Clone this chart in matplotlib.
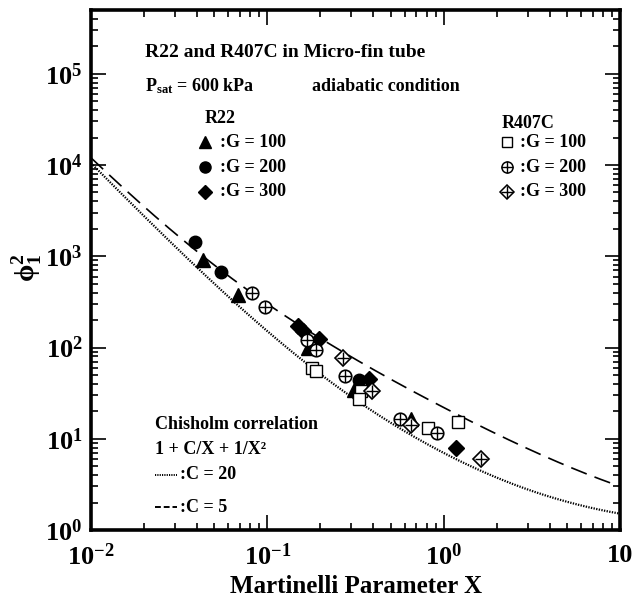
import numpy as np
import matplotlib
matplotlib.use("Agg")
import matplotlib.pyplot as plt
from matplotlib.ticker import LogLocator, NullFormatter, FixedLocator, FixedFormatter

plt.rcParams['font.family'] = ['Liberation Serif', 'DejaVu Serif']
plt.rcParams['font.weight'] = 'bold'
plt.rcParams['mathtext.fontset'] = 'custom'
plt.rcParams['mathtext.rm'] = 'Liberation Serif:bold'
plt.rcParams['mathtext.bf'] = 'Liberation Serif:bold'
plt.rcParams['mathtext.it'] = 'Liberation Serif:bold:italic'
plt.rcParams['mathtext.default'] = 'rm'

# R22 (filled markers)
r22_g100_x = [0.043, 0.068, 0.169, 0.310, 0.649]
r22_g100_y = [911, 373, 99, 34, 16.5]
r22_g200_x = [0.0387, 0.0548, 0.331]
r22_g200_y = [1450, 679, 44.5]
r22_g300_x = [0.150, 0.160, 0.197, 0.377, 1.18]
r22_g300_y = [171, 150, 125, 45, 8.0]

# R407C (open markers)
r407_g100_x = [0.180, 0.190, 0.338, 0.329, 0.815, 1.205]
r407_g100_y = [60, 55, 33, 27.3, 13.1, 15.1]
r407_g200_x = [0.0815, 0.0975, 0.168, 0.188, 0.276, 0.562, 0.916]
r407_g200_y = [399, 280, 120, 93, 49, 16.5, 11.7]
r407_g300_x = [0.269, 0.394, 0.649, 1.63]
r407_g300_y = [77, 33, 14.3, 6.0]

# Chisholm correlation 1 + C/X + 1/X^2 (upper curve dashed, lower dotted as drawn)
C_dashed = 20
C_dotted = 5

xt = [0.01, 0.1, 1, 10]
xt_lab = [r'$10^{-2}$', r'$10^{-1}$', r'$10^{0}$', '10']
yt = [1, 10, 100, 1e3, 1e4, 1e5]
yt_lab = [r'$10^{%d}$' % k for k in range(6)]

X = np.logspace(-2, 1, 300)

fig = plt.figure(figsize=(6.33, 6.02), dpi=100)
ax = fig.add_axes([91/633, 72/602, 529/633, 520/602])
ax.set_xscale('log')
ax.set_yscale('log')

ax.plot(X, 1 + C_dashed/X + 1/X**2, c='k', lw=1.2, ls=(0, (10, 5)))
ax.plot(X, 1 + C_dotted/X + 1/X**2, c='k', lw=1.6, ls=(0, (0.6, 0.6)))

ms = 9
ax.plot(r22_g100_x, r22_g100_y, '^', c='k', ms=ms+1, ls='none')
ax.plot(r22_g200_x, r22_g200_y, 'o', c='k', ms=ms, ls='none')
ax.plot(r22_g300_x, r22_g300_y, 'D', c='k', ms=ms-1, ls='none')
ax.plot(r407_g100_x, r407_g100_y, 's', mfc='white', mec='k', mew=1, ms=ms-1, ls='none')
ax.plot(r407_g200_x, r407_g200_y, 'o', mfc='white', mec='k', mew=1.2, ms=ms, ls='none')
ax.plot(r407_g200_x, r407_g200_y, '+', c='k', mew=1, ms=ms, ls='none')
ax.plot(r407_g300_x, r407_g300_y, 'D', mfc='white', mec='k', mew=1.2, ms=ms-1, ls='none')
ax.plot(r407_g300_x, r407_g300_y, '+', c='k', mew=1, ms=ms, ls='none')

ax.set_xlim(0.01, 10)
ax.set_ylim(1, 5e5)

ax.xaxis.set_major_locator(FixedLocator(xt))
ax.xaxis.set_major_formatter(FixedFormatter(xt_lab))
ax.yaxis.set_major_locator(FixedLocator(yt))
ax.yaxis.set_major_formatter(FixedFormatter(yt_lab))
for a in (ax.xaxis, ax.yaxis):
    a.set_minor_locator(LogLocator(base=10, subs=np.arange(2, 10), numticks=20))
    a.set_minor_formatter(NullFormatter())

ax.tick_params(which='both', direction='in', top=True, right=True, width=1.2, colors='k')
ax.tick_params(which='major', length=11, labelsize=19, pad=6)
ax.tick_params(axis='x', which='major', pad=10)
ax.tick_params(which='minor', length=5)
for s in ax.spines.values():
    s.set_linewidth(2.6)

ax.set_xlabel('Martinelli Parameter X', fontsize=18, fontweight='bold', labelpad=3)
fig.text(27/633, 1 - 268/602, r'$\phi_{1}^{2}$', fontsize=20, rotation=90, ha='center', va='center')

fs = 13
tr = ax.transAxes
ax.text(0.102, 0.910, 'R22 and R407C in Micro-fin tube', fontsize=14, transform=tr)
ax.text(0.102, 0.844, r'P$_{\mathrm{sat}}$ = 600 kPa', fontsize=fs, transform=tr)
ax.text(0.418, 0.844, 'adiabatic condition', fontsize=fs, transform=tr)

ax.text(0.2155, 0.783, 'R22', fontsize=fs, transform=tr)
ax.text(0.777, 0.773, 'R407C', fontsize=fs, transform=tr)
rows = [0.746, 0.698, 0.650]
glab = [':G = 100', ':G = 200', ':G = 300']
for yy, g in zip(rows, glab):
    ax.text(0.244, yy, g, fontsize=fs, va='center', transform=tr)
    ax.text(0.811, yy, g, fontsize=fs, va='center', transform=tr)
ax.plot([0.2155], [rows[0]], '^', c='k', ms=ms, transform=tr)
ax.plot([0.2155], [rows[1]], 'o', c='k', ms=ms-1, transform=tr)
ax.plot([0.2155], [rows[2]], 'D', c='k', ms=ms-2, transform=tr)
ax.plot([0.786], [rows[0]], 's', mfc='white', mec='k', mew=1, ms=ms-2, transform=tr)
ax.plot([0.786], [rows[1]], 'o', mfc='white', mec='k', mew=1.1, ms=ms-1, transform=tr)
ax.plot([0.786], [rows[1]], '+', c='k', mew=1, ms=ms-1, transform=tr)
ax.plot([0.786], [rows[2]], 'D', mfc='white', mec='k', mew=1.1, ms=ms-2, transform=tr)
ax.plot([0.786], [rows[2]], '+', c='k', mew=1, ms=ms-1, transform=tr)

ax.text(0.121, 0.202, 'Chisholm correlation', fontsize=fs, va='center', transform=tr)
ax.text(0.121, 0.154, '1 + C/X + 1/X²', fontsize=fs, va='center', transform=tr)
ax.plot([0.121, 0.163], [0.106, 0.106], c='k', lw=1.4, ls=(0, (0.6, 0.6)), transform=tr)
ax.text(0.168, 0.106, ':C = 20', fontsize=fs, va='center', transform=tr)
ax.plot([0.121, 0.163], [0.044, 0.044], c='k', lw=1.4, ls=(0, (3, 1.5)), transform=tr)
ax.text(0.168, 0.044, ':C = 5', fontsize=fs, va='center', transform=tr)

plt.savefig("out.png", dpi=100)
plt.close()
